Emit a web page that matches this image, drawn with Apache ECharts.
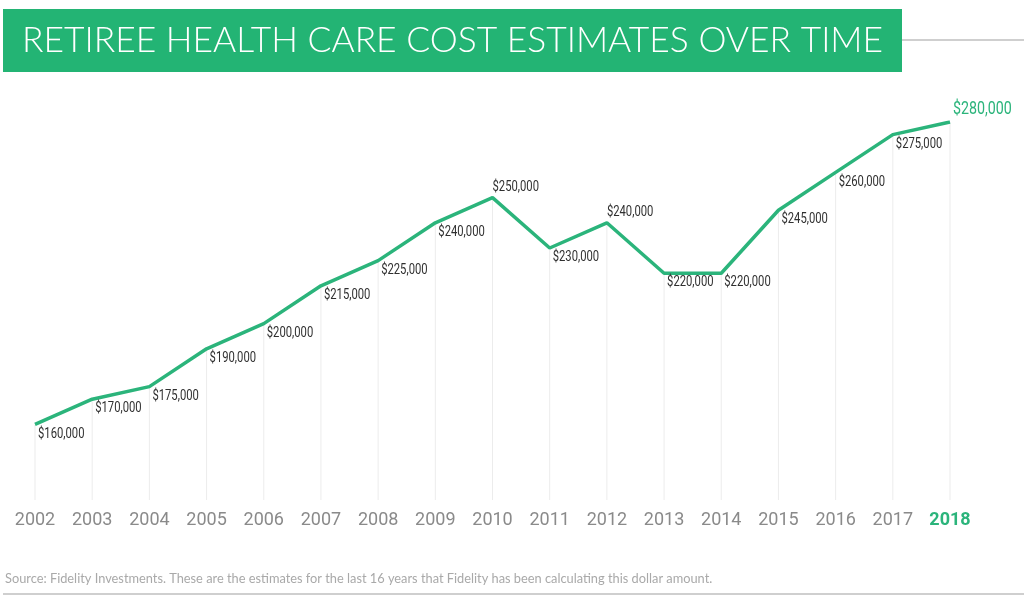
<!DOCTYPE html>
<html>
<head>
<meta charset="utf-8">
<script src="https://cdn.jsdelivr.net/npm/echarts@6/dist/echarts.min.js"></script>
<style>html,body{margin:0;padding:0;background:#fff;}#c{width:1024px;height:604px;}</style>
</head>
<body>
<div id="c"></div>
<script>
var years = ['2002','2003','2004','2005','2006','2007','2008','2009','2010','2011','2012','2013','2014','2015','2016','2017','2018'];
var costs = [160000,170000,175000,190000,200000,215000,225000,240000,250000,230000,240000,220000,220000,245000,260000,275000,280000];
var labelAbove = ['2010','2012','2018'];
var titleText = 'RETIREE HEALTH CARE COST ESTIMATES OVER TIME';
var sourceText = 'Source: Fidelity Investments. These are the estimates for the last 16 years that Fidelity has been calculating this dollar amount.';

var GREEN = '#2bb47b';

function fmt(v){ return '$' + v.toLocaleString('en-US'); }

var chart = echarts.init(document.getElementById('c'));
chart.setOption({
  animation: false,
  backgroundColor: '#fff',
  grid: { left: 35, right: 74, top: 122, bottom: 104 },
  xAxis: {
    type: 'category',
    data: years,
    boundaryGap: false,
    axisLine: { show: false },
    axisTick: { show: false },
    splitLine: { show: false },
    axisLabel: {
      interval: 0,
      margin: 11,
      fontSize: 18,
      fontFamily: 'Roboto, sans-serif',
      color: '#8a8a8a',
      formatter: function(v){ return v === '2018' ? '{g|' + v + '}' : v; },
      rich: { g: { color: GREEN, fontSize: 18, fontWeight: 'bold', fontFamily: 'Roboto, sans-serif' } }
    }
  },
  yAxis: {
    type: 'value',
    min: 130000,
    max: 280000,
    show: false,
    splitLine: { show: false }
  },
  series: [
    {
      type: 'bar',
      data: costs,
      barWidth: 1,
      itemStyle: { color: '#ececec' },
      silent: true,
      z: 1
    },
    {
      type: 'line',
      data: costs,
      showSymbol: false,
      symbol: 'none',
      lineStyle: { color: GREEN, width: 3.5 },
      z: 3
    },
    {
      type: 'custom',
      silent: true,
      z: 4,
      data: costs.map(function(v, i){ return [i, v]; }),
      renderItem: function(params, api){
        var i = api.value(0), v = api.value(1);
        var p = api.coord([i, v]);
        var isLast = i === years.length - 1;
        var above = labelAbove.indexOf(years[i]) >= 0;
        var dx = isLast ? 3 : (above ? 0 : 3);
        var dy = isLast ? -13 : (above ? -10.5 : 9.5);
        return {
          type: 'text',
          x: p[0] + dx,
          y: p[1] + dy,
          scaleX: 0.75,
          style: {
            text: fmt(v),
            fill: isLast ? GREEN : '#2f2f2f',
            font: (isLast ? '19px' : '15px') + ' Roboto, sans-serif',
            align: 'left',
            verticalAlign: 'middle'
          }
        };
      }
    }
  ],
  graphic: [
    { type: 'line', shape: { x1: 900, y1: 40, x2: 1024, y2: 40 }, style: { stroke: '#cfcfcf', lineWidth: 2 } },
    { type: 'rect', shape: { x: 3, y: 9, width: 899, height: 63 }, style: { fill: '#23b474' } },
    { type: 'text', left: 22, top: 23, style: { text: titleText, fill: '#fff', font: '300 35.4px Lato, "Noto Sans", sans-serif' } },
    { type: 'text', left: 5, top: 572, style: { text: sourceText, fill: '#a9a9a9', font: '12.8px Lato, "Noto Sans", sans-serif' } },
    { type: 'line', shape: { x1: 3, y1: 594, x2: 1024, y2: 594 }, style: { stroke: '#cfcfcf', lineWidth: 2 } }
  ]
});
</script>
</body>
</html>
